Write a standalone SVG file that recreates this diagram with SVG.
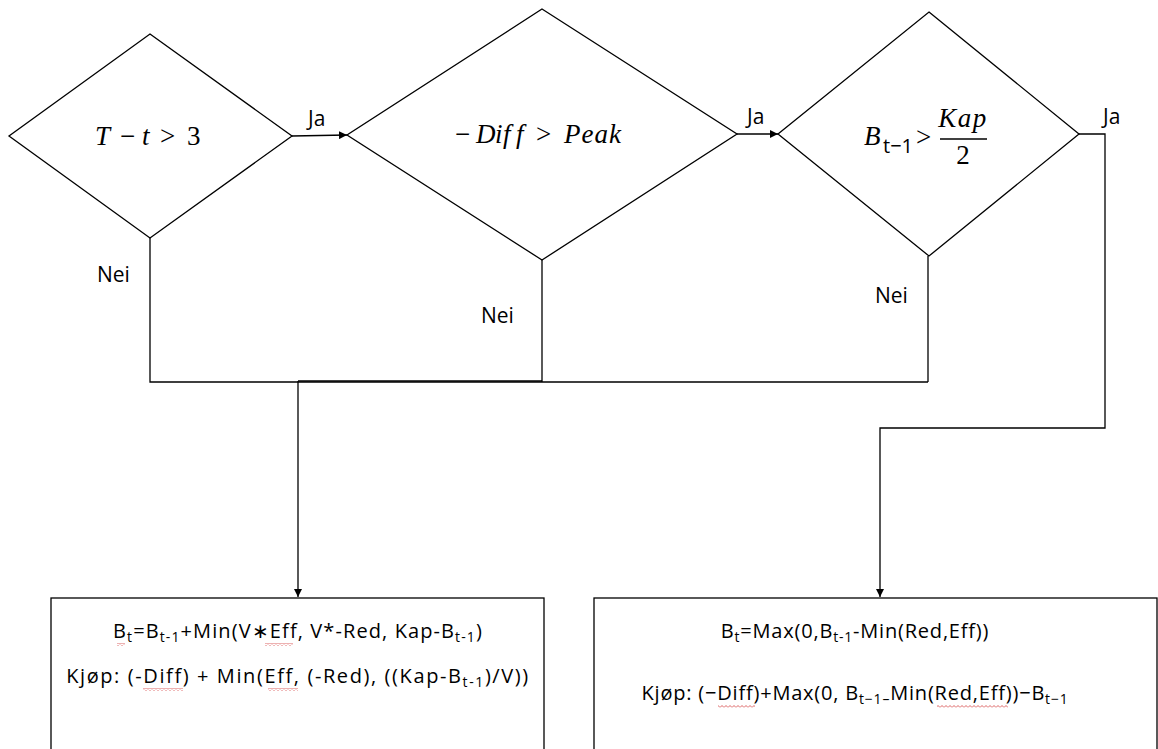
<svg xmlns="http://www.w3.org/2000/svg" width="1158" height="749" viewBox="0 0 1158 749">
  <defs>
    <marker id="arrow" viewBox="0 0 10 10" refX="10" refY="5" markerWidth="8" markerHeight="8" markerUnits="userSpaceOnUse" orient="auto">
      <path d="M0,0 L10,5 L0,10 Z" fill="#000"/>
    </marker>
    <!-- spell-check squiggle -->
    <pattern id="squiggle" patternUnits="userSpaceOnUse" width="4" height="3">
      <path d="M0,2.5 L2,0.5 L4,2.5" fill="none" stroke="#d23c3c" stroke-width="0.8"/>
    </pattern>
    <style>
      .shape { fill: #fff; stroke: #000; stroke-width: 1.3; }
      .wire { fill: none; stroke: #000; stroke-width: 1.3; }
      .label { font-family: "Open Sans", "Liberation Sans", sans-serif; font-size: 21px; fill: #000; }
      .math { font-family: "Liberation Serif", serif; font-size: 27px; fill: #000; }
      .it { font-style: italic; }
      .body { font-family: "Open Sans", "Liberation Sans", sans-serif; font-size: 20px; letter-spacing: 0.8px; fill: #000; }
      .body.wide1 { letter-spacing: 1.1px; }
      .body.wide2 { letter-spacing: 1.6px; }
      .sub { font-size: 14px; }
      .squig { fill: url(#squiggle); }
    </style>
  </defs>

  <!-- connectors -->
  <g id="connectors">
    <path class="wire" d="M292,136 L347,135" marker-end="url(#arrow)"/>
    <path class="wire" d="M737,134 L778,134" marker-end="url(#arrow)"/>
    <path class="wire" d="M1079,134 L1105,134 L1105,428 L880,428 L880,597" marker-end="url(#arrow)"/>
    <path class="wire" d="M150,238 L150,382 L928,382"/>
    <path class="wire" d="M542,260 L542,382"/>
    <path class="wire" d="M928,256 L928,382"/>
    <path class="wire" d="M298,381 L542,381"/>
    <path class="wire" d="M298,381 L298,597" marker-end="url(#arrow)"/>
    <text class="label" x="308" y="126">Ja</text>
    <text class="label" x="747" y="124">Ja</text>
    <text class="label" x="1103" y="124">Ja</text>
    <text class="label" x="97" y="282">Nei</text>
    <text class="label" x="481" y="323">Nei</text>
    <text class="label" x="875" y="303">Nei</text>
  </g>

  <!-- decision: time left -->
  <g id="decision-time">
    <polygon class="shape" points="150,34 292,136 150,238 9,136"/>
    <text class="math" y="145"><tspan class="it" x="95">T</tspan><tspan x="120">−</tspan><tspan class="it" x="142">t</tspan><tspan x="160">&gt;</tspan><tspan x="187">3</tspan></text>
  </g>

  <!-- decision: peak -->
  <g id="decision-peak">
    <polygon class="shape" points="542,9 737,134 542,260 347,135"/>
    <text class="math" y="143" font-size="26"><tspan x="455">−</tspan><tspan class="it" x="476 495 503 516">Diff</tspan><tspan x="536">&gt;</tspan><tspan class="it" x="564" letter-spacing="1">Peak</tspan></text>
  </g>

  <!-- decision: battery level -->
  <g id="decision-battery">
    <polygon class="shape" points="929,12 1079,134 929,256 778,134"/>
    <text class="math it" x="864" y="145" font-size="26">B</text>
    <text class="body" x="883" y="153" font-size="13" style="letter-spacing:0">t−1</text>
    <text class="math" x="916" y="146" font-size="26">&gt;</text>
    <text class="math it" x="963" y="127" text-anchor="middle" font-size="26" letter-spacing="1.5">Kap</text>
    <line x1="940" y1="139" x2="987" y2="139" stroke="#000" stroke-width="1.3"/>
    <text class="math" x="963" y="164" text-anchor="middle" font-size="26">2</text>
  </g>

  <!-- action: charge -->
  <g id="action-charge">
    <rect class="shape" x="51" y="598" width="493" height="170"/>
    <text class="body wide1" x="298" y="638" text-anchor="middle">B<tspan class="sub" dy="4">t</tspan><tspan dy="-4">=B</tspan><tspan class="sub" dy="4">t-1</tspan><tspan dy="-4">+Min(V∗Eff, V*-Red, Kap-B</tspan><tspan class="sub" dy="4">t-1</tspan><tspan dy="-4">)</tspan></text>
    <text class="body wide2" x="298" y="683" text-anchor="middle">Kjøp: (-Diff) + Min(Eff, (-Red), ((Kap-B<tspan class="sub" dy="4">t-1</tspan><tspan dy="-4">)/V))</tspan></text>
    <rect class="squig" x="117" y="643" width="8" height="3"/>
    <rect class="squig" x="265" y="643" width="28" height="3"/>
    <rect class="squig" x="143" y="688" width="40" height="3"/>
    <rect class="squig" x="268" y="688" width="30" height="3"/>
  </g>

  <!-- action: discharge -->
  <g id="action-discharge">
    <rect class="shape" x="594" y="598" width="563" height="170"/>
    <text class="body" x="855" y="638" text-anchor="middle">B<tspan class="sub" dy="4">t</tspan><tspan dy="-4">=Max(0,B</tspan><tspan class="sub" dy="4">t-1</tspan><tspan dy="-4">-Min(Red,Eff))</tspan></text>
    <text class="body" x="855" y="700" text-anchor="middle">Kjøp: (−Diff)+Max(0, B<tspan class="sub" dy="4">t−1–</tspan><tspan dy="-4">Min(Red,Eff))−B</tspan><tspan class="sub" dy="4">t−1</tspan></text>
    <rect class="squig" x="718" y="705" width="37" height="3"/>
    <rect class="squig" x="937" y="705" width="71" height="3"/>
  </g>
</svg>
